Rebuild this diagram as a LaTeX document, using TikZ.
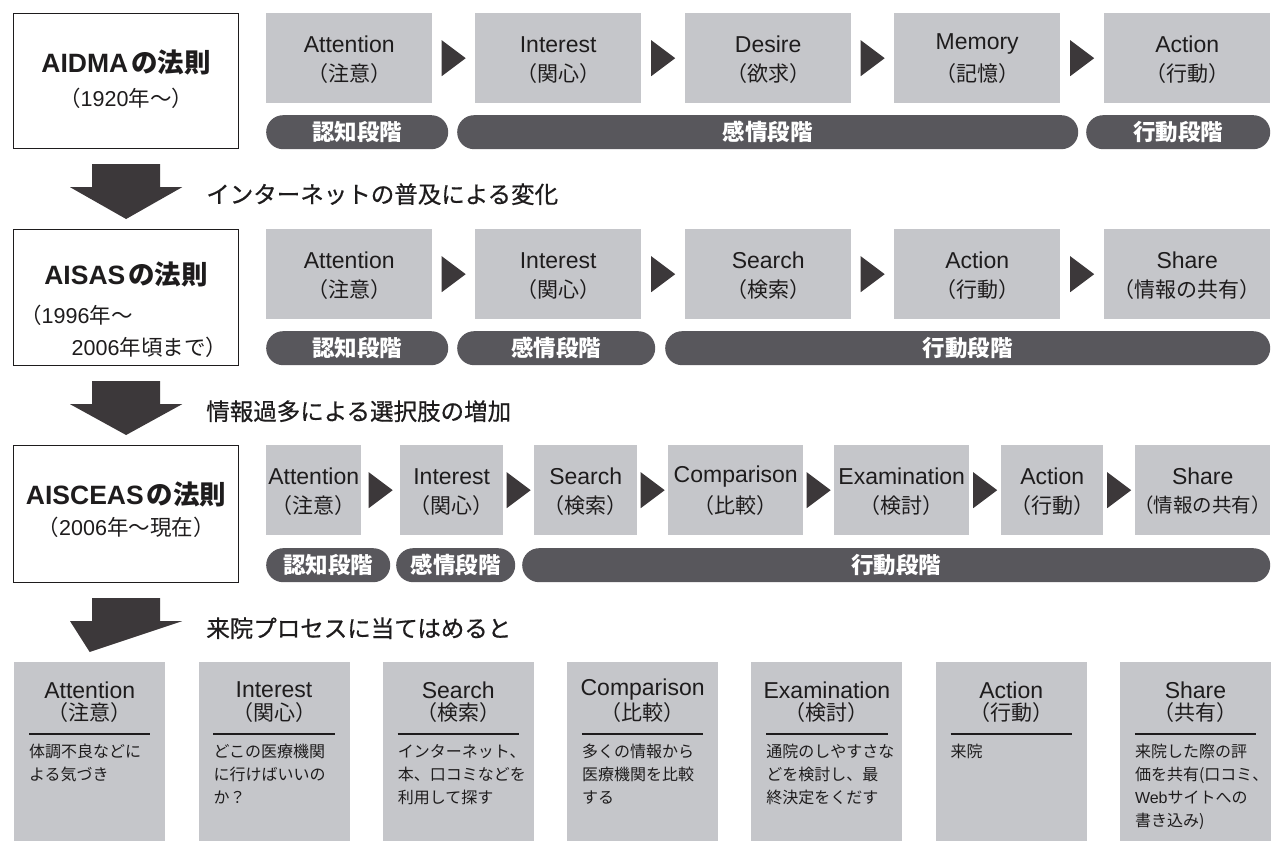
\documentclass[tikz,border=0pt]{standalone}
\usepackage{fontspec}
\setmainfont{Noto Sans CJK JP}
\newfontfamily\lat{Liberation Sans}
\newfontfamily\jamed{Noto Sans CJK JP}[FakeBold=0.6]
\usetikzlibrary{calc}
\definecolor{boxgray}{RGB}{197,198,202}
\definecolor{pilldark}{RGB}{88,87,92}
\definecolor{darkfill}{RGB}{60,56,58}
\definecolor{txt}{RGB}{30,28,29}
\tikzset{
  gbox/.style={fill=boxgray,draw=none,inner sep=0pt},
  lbox/.style={fill=white,draw=txt,line width=1.2pt,inner sep=0pt},
  ttl/.style={text=txt,inner sep=0pt,font=\lat\fontsize{23}{26}\selectfont},
  sub/.style={text=txt,inner sep=0pt,font=\fontsize{21}{24}\selectfont},
  pilltext/.style={text=white,inner sep=0pt,font=\bfseries\fontsize{22.5}{26}\selectfont},
  pillbox/.style={fill=pilldark,draw=none,inner sep=0pt},
  arrlabel/.style={text=txt,inner sep=0pt,anchor=west,font=\jamed\fontsize{23.5}{28}\selectfont},
  ltitle/.style={text=txt,inner sep=0pt,font=\bfseries\fontsize{26.5}{30}\selectfont},
  lsub/.style={text=txt,inner sep=0pt,font=\fontsize{21.5}{24}\selectfont},
  body/.style={text=txt,inner sep=0pt,anchor=north west,align=left,font=\fontsize{16}{23}\selectfont},
  rule/.style={draw=txt,line width=1.1pt},
  tri/.style={fill=darkfill},
}
\newcommand\stg[8][]{%
  \pgfmathsetmacro\sgw{#5-#3}\pgfmathsetmacro\sgh{#6-#4}%
  \node[gbox,anchor=north west,minimum width=\sgw pt,minimum height=\sgh pt] (#2) at (#3,#4) {};
  \node[ttl] (#2t) at ($(#2.center)+(0,-14)$) {#7};
  \node[sub,#1] (#2s) at ($(#2.center)+(0,15)$) {#8};
}
\newcommand\pil[6]{%
  \pgfmathsetmacro\sgw{#4-#2}\pgfmathsetmacro\sgh{#5-#3}%
  \node[pillbox,anchor=north west,minimum width=\sgw pt,minimum height=\sgh pt,rounded corners=16.9pt] (#1) at (#2,#3) {};
  \node[pilltext] (#1t) at (#1.center) {#6};
}
\newcommand\tri[2]{%
  \fill[tri] ($(#1.east)!0.5!(#2.west)+(-12,-18)$) -- ($(#1.east)!0.5!(#2.west)+(12,0)$) -- ($(#1.east)!0.5!(#2.west)+(-12,18)$) -- cycle;
}
\newcommand\bigarrow[2]{%
  \fill[tri] ($(#1.south)+(-34,15)$) -- ($(#1.south)+(34,15)$) -- ($(#1.south)+(34,38)$) -- ($(#1.south)+(56,38)$)
    -- ($(#2.north)+(0,-10)$) -- ($(#1.south)+(-56,38)$) -- ($(#1.south)+(-34,38)$) -- cycle;
}
\newcommand\pbox[5]{%
  \pgfmathsetmacro\pbx{14+184.3*#2}%
  \node[gbox,anchor=north west,minimum width=151pt,minimum height=179pt] (#1) at (\pbx,662) {};
  \node[ttl] (#1t) at ($(#1.north)+(0,28)$) {#3};
  \node[sub] (#1s) at ($(#1.north)+(0,51)$) {#4};
  \draw[rule] ($(#1.north west)+(15,72)$) -- ($(#1.north east)+(-15,72)$);
  \node[body] (#1b) at ($(#1.north west)+(15,82)$) {#5};
}
\begin{document}
\begin{tikzpicture}[x=1pt,y=-1pt]
\useasboundingbox (0,0) rectangle (1271,841);
\fill[white] (0,0) rectangle (1271,841);
% ---------- Row 1: AIDMA ----------
\node[lbox,anchor=north west,minimum width=225pt,minimum height=135pt] (L1) at (13,13) {};
\node[ltitle] (L1t) at ($(L1.north)+(0,49)$) {{\lat\bfseries AIDMA}\hspace{3pt}の法則};
\node[lsub] (L1s) at ($(L1.north)+(0,85)$) {（{\lat 1920}年〜）};
\stg{a1}{266}{13}{432}{103}{Attention}{（注意）}
\stg{a2}{475}{13}{641}{103}{Interest}{（関心）}
\stg{a3}{685}{13}{851}{103}{Desire}{（欲求）}
\stg{a4}{894}{13}{1060}{103}{Memory}{（記憶）}
\stg{a5}{1104}{13}{1270}{103}{Action}{（行動）}
\tri{a1}{a2}\tri{a2}{a3}\tri{a3}{a4}\tri{a4}{a5}
\pil{ap1}{266}{115}{448}{149}{認知段階}
\pil{ap2}{457}{115}{1078}{149}{感情段階}
\pil{ap3}{1086}{115}{1270}{149}{行動段階}
% ---------- Row 2: AISAS ----------
\node[lbox,anchor=north west,minimum width=225pt,minimum height=136pt] (L2) at (13,229) {};
\node[ltitle] (L2t) at ($(L2.north)+(0,45)$) {{\lat\bfseries AISAS}\hspace{3pt}の法則};
\node[lsub,anchor=west] (L2s) at ($(L2.north west)+(7,86)$) {（{\lat 1996}年〜};
\node[lsub,anchor=east] (L2u) at ($(L2.north east)+(-12,118)$) {{\lat 2006}年頃まで）};
\stg{b1}{266}{229}{432}{319}{Attention}{（注意）}
\stg{b2}{475}{229}{641}{319}{Interest}{（関心）}
\stg{b3}{685}{229}{851}{319}{Search}{（検索）}
\stg{b4}{894}{229}{1060}{319}{Action}{（行動）}
\stg{b5}{1104}{229}{1270}{319}{Share}{（情報の共有）}
\tri{b1}{b2}\tri{b2}{b3}\tri{b3}{b4}\tri{b4}{b5}
\pil{bp1}{266}{331}{448}{365}{認知段階}
\pil{bp2}{457}{331}{655}{365}{感情段階}
\pil{bp3}{665}{331}{1270}{365}{行動段階}
% ---------- Row 3: AISCEAS ----------
\node[lbox,anchor=north west,minimum width=225pt,minimum height=137pt] (L3) at (13,445) {};
\node[ltitle] (L3t) at ($(L3.north)+(0,49)$) {{\lat\bfseries AISCEAS}\hspace{3pt}の法則};
\node[lsub] (L3s) at ($(L3.north)+(0,82)$) {（{\lat 2006}年〜現在）};
\stg{c1}{266}{445}{361}{535}{Attention}{（注意）}
\stg{c2}{400}{445}{503}{535}{Interest}{（関心）}
\stg{c3}{534}{445}{637}{535}{Search}{（検索）}
\stg{c4}{668}{445}{803}{535}{Comparison}{（比較）}
\stg{c5}{834}{445}{969}{535}{Examination}{（検討）}
\stg{c6}{1001}{445}{1103}{535}{Action}{（行動）}
\stg[font=\fontsize{19.5}{24}\selectfont]{c7}{1135}{445}{1270}{535}{Share}{（情報の共有）}
\tri{c1}{c2}\tri{c2}{c3}\tri{c3}{c4}\tri{c4}{c5}\tri{c5}{c6}\tri{c6}{c7}
\pil{cp1}{266}{548}{390}{582}{認知段階}
\pil{cp2}{396}{548}{515}{582}{感情段階}
\pil{cp3}{522}{548}{1270}{582}{行動段階}
% ---------- Row 4 ----------
\pbox{d1}{0}{Attention}{（注意）}{体調不良などに\\よる気づき}
\pbox{d2}{1}{Interest}{（関心）}{どこの医療機関\\に行けばいいの\\か？}
\pbox{d3}{2}{Search}{（検索）}{インターネット、\\本、口コミなどを\\利用して探す}
\pbox{d4}{3}{Comparison}{（比較）}{多くの情報から\\医療機関を比較\\する}
\pbox{d5}{4}{Examination}{（検討）}{通院のしやすさな\\どを検討し、最\\終決定をくだす}
\pbox{d6}{5}{Action}{（行動）}{来院}
\pbox{d7}{6}{Share}{（共有）}{来院した際の評\\価を共有(口コミ、\\{\lat Web}サイトへの\\書き込み)}
% ---------- Big arrows ----------
\bigarrow{L1}{L2}
\node[arrlabel] (t1) at ($(L1.south)+(80,45)$) {インターネットの普及による変化};
\bigarrow{L2}{L3}
\node[arrlabel] (t2) at ($(L2.south)+(80,45)$) {情報過多による選択肢の増加};
\bigarrow{L3}{d1}
\node[arrlabel] (t3) at ($(L3.south)+(80,45)$) {来院プロセスに当てはめると};
\end{tikzpicture}
\end{document}
